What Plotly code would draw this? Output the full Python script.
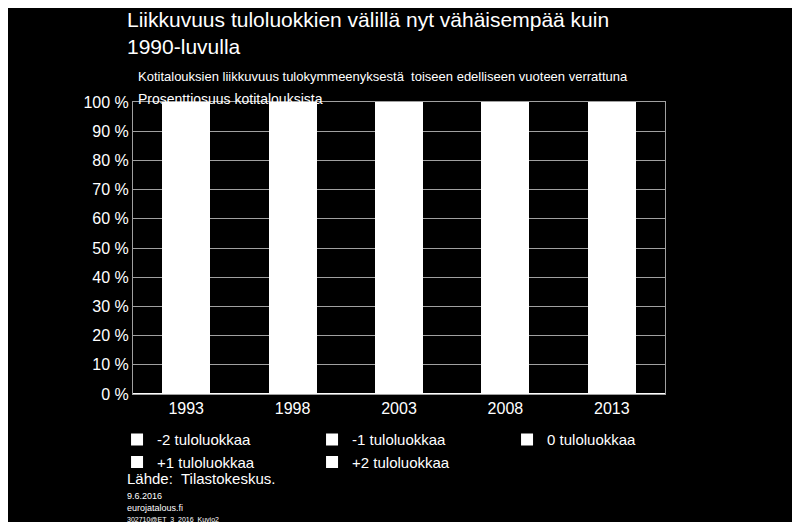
import plotly.graph_objects as go

years = ["1993", "1998", "2003", "2008", "2013"]
series = ["-2 tuloluokkaa", "-1 tuloluokkaa", "0 tuloluokkaa", "+1 tuloluokkaa", "+2 tuloluokkaa"]
minus2 = [9, 8, 7, 7, 6]
minus1 = [17, 16, 15, 15, 15]
zero = [48, 51, 54, 55, 57]
plus1 = [17, 16, 15, 15, 15]
plus2 = [9, 9, 9, 8, 7]
values = [minus2, minus1, zero, plus1, plus2]

FONT = "Liberation Sans, Arial, sans-serif"

fig = go.Figure()
for name, vals in zip(series, values):
    fig.add_trace(go.Bar(x=years, y=vals, name=name, marker=dict(color="white", line=dict(width=0))))

fig.update_layout(
    barmode="stack",
    bargap=0.55,
    width=800, height=522,
    paper_bgcolor="black", plot_bgcolor="black",
    font=dict(family=FONT, color="white", size=15),
    margin=dict(l=125, r=143, t=94, b=136, autoexpand=False),
    xaxis=dict(showline=True, linecolor="#a0a0a0", mirror=True, ticks="", tickfont=dict(size=16)),
    yaxis=dict(range=[0, 100], dtick=10, ticksuffix=" %", gridcolor="#a0a0a0",
               showline=True, linecolor="#a0a0a0", mirror=True, tickfont=dict(size=16)),
    legend=dict(orientation="h", x=-0.03, y=-0.1, xanchor="left", yanchor="top",
                traceorder="normal", entrywidth=150, entrywidthmode="pixels",
                font=dict(size=15), itemwidth=30, tracegroupgap=0),
)

fig.add_annotation(text="Liikkuvuus tuloluokkien välillä nyt vähäisempää kuin<br>1990-luvulla",
                   xref="paper", yref="paper", x=-0.015, y=1.33, xanchor="left", yanchor="top",
                   showarrow=False, align="left", font=dict(size=21))
fig.add_annotation(text="Kotitalouksien liikkuvuus tulokymmeenyksestä  toiseen edelliseen vuoteen verrattuna",
                   xref="paper", yref="paper", x=0.005, y=1.12, xanchor="left", yanchor="top",
                   showarrow=False, font=dict(size=13))
fig.add_annotation(text="Prosenttiosuus kotitalouksista",
                   xref="paper", yref="paper", x=0.005, y=1.045, xanchor="left", yanchor="top",
                   showarrow=False, font=dict(size=14))
fig.add_annotation(text="Lähde:  Tilastokeskus.",
                   xref="paper", yref="paper", x=-0.015, y=-0.255, xanchor="left", yanchor="top",
                   showarrow=False, font=dict(size=15))
fig.add_annotation(text="9.6.2016<br>eurojatalous.fi<br><span style='font-size:7px'>302710@ET_3_2016_Kuvio2</span>",
                   xref="paper", yref="paper", x=-0.015, y=-0.325, xanchor="left", yanchor="top",
                   showarrow=False, align="left", font=dict(size=9))

fig.write_html("out.html")
